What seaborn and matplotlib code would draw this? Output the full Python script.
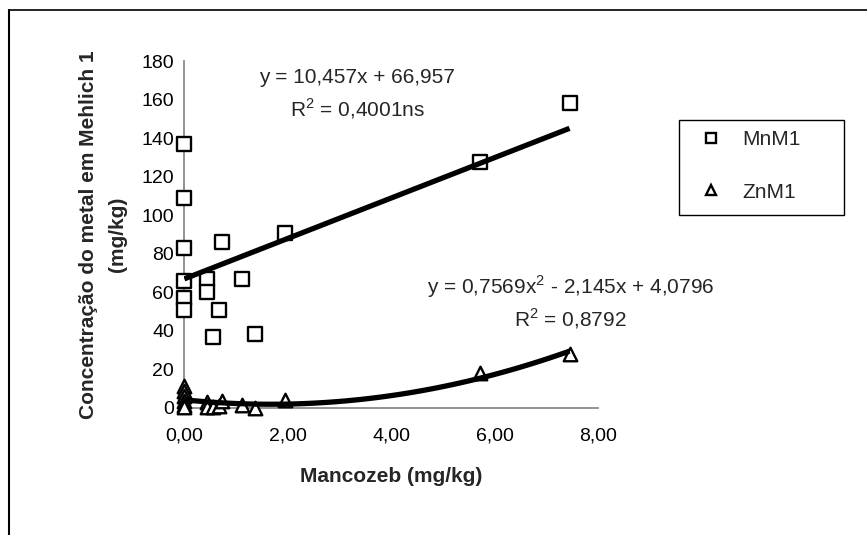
import numpy as np
import pandas as pd
import matplotlib
matplotlib.use("Agg")
import matplotlib.pyplot as plt
import seaborn as sns
from matplotlib.lines import Line2D
from matplotlib.patches import Rectangle

# ---- data ----
mancozeb = [0, 0, 0, 0, 0, 0, 0.44, 0.44, 0.56, 0.68, 0.72, 1.12, 1.37, 1.95, 5.72, 7.45]
mn_m1 = [137, 109, 83, 66, 57, 51, 67, 60, 37, 51, 86, 67, 38.5, 91, 127.5, 158]
zn_m1 = [11.5, 9, 6, 3.5, 1.5, 0.5, 3, 0.5, 0.3, 0.8, 3.5, 1.5, 0, 4, 18, 28]

series_labels = ["MnM1", "ZnM1"]
x_ticks = [0, 2, 4, 6, 8]
x_tick_labels = ["0,00", "2,00", "4,00", "6,00", "8,00"]
y_ticks = [0, 20, 40, 60, 80, 100, 120, 140, 160, 180]
y_tick_labels = ["0", "20", "40", "60", "80", "100", "120", "140", "160", "180"]

mn_eq = "y = 10,457x + 66,957"
mn_r2 = "R$^\\mathregular{2}$ = 0,4001ns"
zn_eq = "y = 0,7569x$^\\mathregular{2}$ - 2,145x + 4,0796"
zn_r2 = "R$^\\mathregular{2}$ = 0,8792"

x_label = "Mancozeb (mg/kg)"
y_label = "Concentração do metal em Mehlich 1\n(mg/kg)"

df = pd.DataFrame({"mancozeb": mancozeb, "MnM1": mn_m1, "ZnM1": zn_m1})

# ---- style ----
sns.set_style("white")
plt.rcParams["font.family"] = ["Liberation Sans", "DejaVu Sans"]

W, H = 867, 535
fig = plt.figure(figsize=(W / 100, H / 100), dpi=100)
fig.patch.set_facecolor("white")

x0, x1, y0, y1 = 184.3, 598.0, 408.0, 61.0
ax = fig.add_axes([x0 / W, 1 - y0 / H, (x1 - x0) / W, (y0 - y1) / H])

grey = "#808080"
msize = 95
mlw = 1.7

sns.scatterplot(data=df, x="mancozeb", y="MnM1", marker="s", s=msize,
                color="white", edgecolor="black", linewidth=mlw,
                ax=ax, label=series_labels[0], zorder=3, clip_on=False)
sns.scatterplot(data=df, x="mancozeb", y="ZnM1", marker="^", s=msize,
                color="white", edgecolor="black", linewidth=mlw,
                ax=ax, label=series_labels[1], zorder=3, clip_on=False)

line_kws = dict(color="black", linewidth=3.8, zorder=4, solid_capstyle="butt")
sns.regplot(data=df, x="mancozeb", y="MnM1", order=1, ci=None, scatter=False,
            truncate=True, ax=ax, line_kws=line_kws)
sns.regplot(data=df, x="mancozeb", y="ZnM1", order=2, ci=None, scatter=False,
            truncate=True, ax=ax, line_kws=line_kws)

ax.set_xlim(0, 8)
ax.set_ylim(0, 180)
ax.set_xticks(x_ticks)
ax.set_xticklabels(x_tick_labels)
ax.set_yticks(y_ticks)
ax.set_yticklabels(y_tick_labels)

for side in ["top", "right"]:
    ax.spines[side].set_visible(False)
for side in ["left", "bottom"]:
    ax.spines[side].set_color(grey)
    ax.spines[side].set_linewidth(1.2)

ax.tick_params(axis="both", which="major", direction="out", length=5, width=1.2,
               color=grey, labelsize=14, labelcolor="black")
ax.tick_params(axis="x", pad=9)
ax.tick_params(axis="y", pad=2.5)

fs = 15
ax.set_xlabel(x_label, fontsize=fs, fontweight="bold", va="center")
ax.xaxis.set_label_coords(0.5, (y0 - 477) / (y0 - y1))
ax.set_ylabel(y_label, fontsize=fs, fontweight="bold", va="center",
              ha="center", multialignment="center", linespacing=1.6)
ax.yaxis.set_label_coords((103 - x0) / (x1 - x0), 0.5)

# equations
ax.text(3.34, 171.5, mn_eq, fontsize=fs, ha="center", va="center")
ax.text(3.34, 155.5, mn_r2, fontsize=fs, ha="center", va="center")
ax.text(7.47, 62.8, zn_eq, fontsize=fs, ha="center", va="center")
ax.text(7.47, 46.5, zn_r2, fontsize=fs, ha="center", va="center")

# legend
ax.get_legend().remove()
handles = [
    Line2D([], [], marker="s", linestyle="none", markersize=7.5,
           markerfacecolor="white", markeredgecolor="black", markeredgewidth=1.7),
    Line2D([], [], marker="^", linestyle="none", markersize=7.5,
           markerfacecolor="white", markeredgecolor="black", markeredgewidth=1.7),
]
lx0, lx1, ly0, ly1 = 679, 844, 120, 215
fig.add_artist(Rectangle((lx0 / W, 1 - ly1 / H), (lx1 - lx0) / W, (ly1 - ly0) / H,
                         transform=fig.transFigure, facecolor="white",
                         edgecolor="black", linewidth=1.0, zorder=1))
fs_px = fs * 100 / 72
bp = 0.35
hl = 2 * (711 - lx0 - bp * fs_px) / fs_px
htp = (742 - (lx0 + bp * fs_px + hl * fs_px)) / fs_px
leg = fig.legend(handles, series_labels, loc="upper left",
                 bbox_to_anchor=(lx0 / W, 1 - (ly0 + 3) / H),
                 borderaxespad=0, frameon=False, fontsize=fs, borderpad=bp,
                 labelspacing=1.6, handlelength=hl, handletextpad=htp)
leg.set_zorder(2)

# outer chart-area border (top and left visible)
fig.add_artist(Line2D([9 / W, 9 / W], [1 - 10 / H, 0], color="black", linewidth=1.5,
                      transform=fig.transFigure))
fig.add_artist(Line2D([9 / W, 1], [1 - 10 / H, 1 - 10 / H], color="black", linewidth=1.2,
                      transform=fig.transFigure))

fig.savefig("out.png", dpi=100)
